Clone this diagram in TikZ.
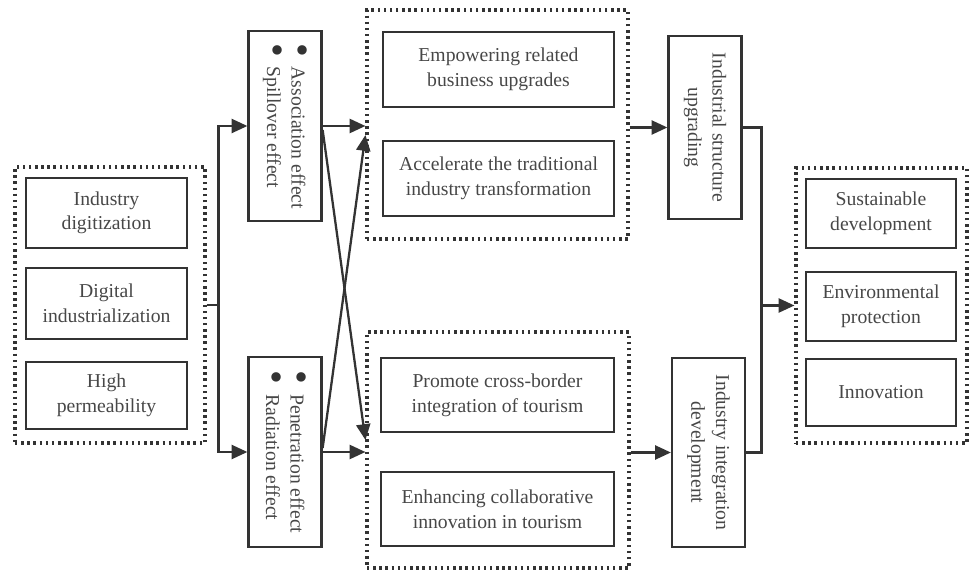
\documentclass[tikz,border=0pt]{standalone}
\usepackage{fontspec}
\setmainfont{Liberation Serif}
\usetikzlibrary{arrows.meta,calc}
\definecolor{ink}{HTML}{333333}
\definecolor{txt}{HTML}{474747}
\newcommand{\blt}{\raisebox{0.35ex}{\textcolor{ink}{\rule{0pt}{0pt}\scalebox{2}{\raisebox{-0.3ex}{\textbullet}}}}\ \ }
\begin{document}
\begin{tikzpicture}[x=0.02cm, y=-0.02cm,
    font=\rmfamily\fontsize{11.2}{14}\selectfont, text=txt,
    box/.style={draw=ink, line width=1.3pt, align=center, inner sep=0pt},
    grp/.style={draw=ink, line width=1.8pt, dash pattern=on 1.4pt off 2.1pt, inner sep=0pt},
    vbox/.style={box, minimum width=1.46cm},
    vtext/.style={rotate=-90, align=center, inner sep=0pt},
    arr/.style={draw=ink, line width=1.3pt, -{Triangle[length=9pt,width=8pt]}},
    ln/.style={draw=ink, line width=1.3pt}]
  \useasboundingbox (0,0) rectangle (969,573);
  % left group
  \node[grp, minimum width=3.8cm, minimum height=5.52cm] (grpL) at (110,305) {};
  \node[box, minimum width=3.22cm, minimum height=1.4cm] (l1) at (106.5,213) {Industry\\digitization};
  \node[box, minimum width=3.22cm, minimum height=1.42cm] (l2) at (106.5,303.5) {Digital\\industrialization};
  \node[box, minimum width=3.22cm, minimum height=1.34cm] (l3) at (106.5,395.5) {High\\permeability};
  % effect boxes
  \node[vbox, minimum height=3.8cm] (effA) at (285,126) {};
  \node[vtext, align=left] (effAt) at (effA) {\blt Association effect\\\blt Spillover effect};
  \node[vbox, minimum height=3.8cm] (effB) at (285,452) {};
  \node[vtext, align=left] (effBt) at (effB) {\blt Penetration effect\\\blt Radiation effect};
  % middle groups
  \node[grp, minimum width=5.22cm, minimum height=4.58cm] (grpT) at (497.5,124.5) {};
  \node[box, minimum width=4.62cm, minimum height=1.5cm] (t1) at (498.5,69.5) {Empowering related\\business upgrades};
  \node[box, minimum width=4.62cm, minimum height=1.5cm] (t2) at (498.5,178.5) {Accelerate the traditional\\industry transformation};
  \node[grp, minimum width=5.24cm, minimum height=4.72cm] (grpB) at (498,450) {};
  \node[box, minimum width=4.66cm, minimum height=1.48cm] (b1) at (497.5,395) {Promote cross-border\\integration of tourism};
  \node[box, minimum width=4.66cm, minimum height=1.48cm] (b2) at (497.5,509) {Enhancing collaborative\\innovation in tourism};
  % upgrading boxes
  \node[vbox, minimum height=3.66cm] (upC) at (705,127.5) {};
  \node[vtext] (upCt) at (upC) {Industrial structure\\upgrading};
  \node[vbox, minimum height=3.78cm] (upD) at (708.5,452.5) {};
  \node[vtext] (upDt) at (upD) {Industry integration\\development};
  % right group
  \node[grp, minimum width=3.42cm, minimum height=5.5cm] (grpR) at (881.5,305.5) {};
  \node[box, minimum width=3cm, minimum height=1.38cm] (r1) at (881,213.5) {Sustainable\\development};
  \node[box, minimum width=3cm, minimum height=1.38cm] (r2) at (881,306.5) {Environmental\\protection};
  \node[box, minimum width=3cm, minimum height=1.34cm] (r3) at (881,392.5) {Innovation};
  % connectors
  \coordinate (jl) at ($(grpL.east)+(12,0)$);
  \draw[ln] (grpL.east) -- (jl);
  \draw[arr] (jl) |- (effA.west);
  \draw[arr] (jl) |- (effB.west);
  \draw[arr] (effA.east) -- (effA.east -| grpT.west);
  \draw[arr] (effB.east) -- (effB.east -| grpB.west);
  \draw[arr] ($(effA.east)+(0,4)$) -- ($(effA.east -| grpB.west)+(0,314)$);
  \draw[arr] ($(effB.east)+(0,-4)$) -- ($(effB.east -| grpT.west)+(0,-317)$);
  \draw[arr] (upC.west -| grpT.east) -- (upC.west);
  \draw[arr] (upD.west -| grpB.east) -- (upD.west);
  \coordinate (jr) at ($(grpR.west)+(-33,0)$);
  \draw[ln] (upC.east) -| (jr) |- (upD.east);
  \draw[arr] (jr) -- (grpR.west);
\end{tikzpicture}
\end{document}
